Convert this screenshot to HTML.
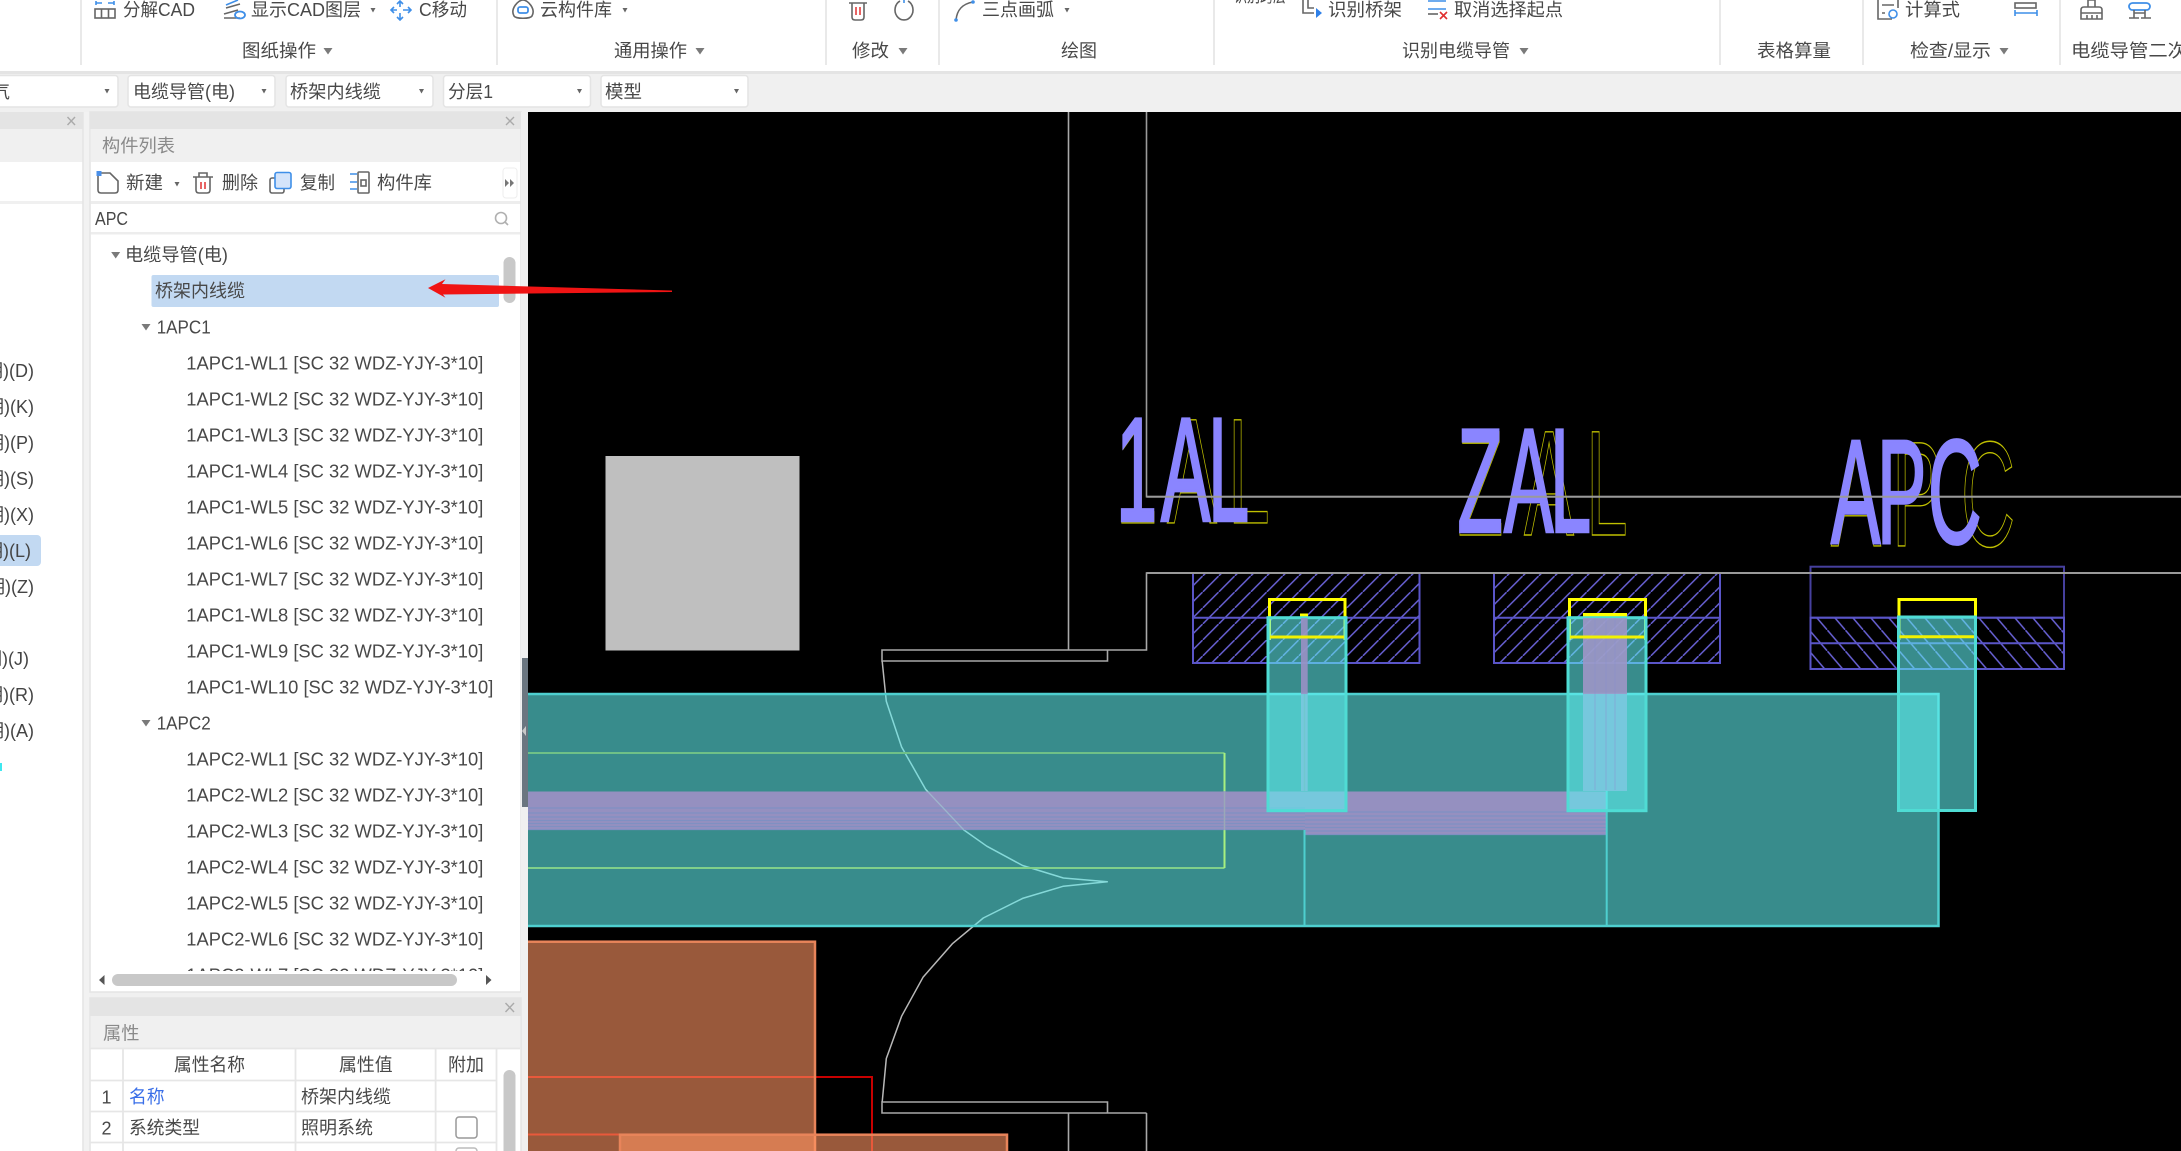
<!DOCTYPE html>
<html><head><meta charset="utf-8"><style>
html,body{margin:0;padding:0;background:#f0f0f0;overflow:hidden}
svg{display:block}
text{font-family:"Liberation Sans","Noto Sans CJK SC",sans-serif;font-size:18px;fill:#444}
.g{fill:#8a8a8a}
.t{font-size:18px;fill:#484848}
.cad{font-size:148px;fill:#8a85ff;stroke:#8a85ff;stroke-width:3}
.yl{font-size:150px;fill:none;stroke:#c0c000;stroke-width:1.400}
.x{stroke:#a8a8a8;stroke-width:1.600;fill:none}
.ic{fill:none;stroke:#666;stroke-width:1.600}
.ib{fill:none;stroke:#3f8fe8;stroke-width:1.600}
</style></head><body>
<svg xmlns="http://www.w3.org/2000/svg" width="2181" height="1151" viewBox="0 0 2181 1151">
<defs>
<polygon id="t" points="-4.5,-3 4.5,-3 0,3.5" fill="#7a7a7a"/>
<polygon id="s" points="-2.5,-2 2.5,-2 0,2.5" fill="#666"/>
<pattern id="h1" patternUnits="userSpaceOnUse" width="16" height="16" patternTransform="translate(2.7,0)"><path d="M-2,18 L18,-2" stroke="#6a63d8" stroke-width="1.500"/></pattern>
<pattern id="h2" patternUnits="userSpaceOnUse" width="18" height="21" patternTransform="translate(9.3,0)"><path d="M-2,-2.333 L20,23.333" stroke="#6a63d8" stroke-width="1.500"/></pattern>
<clipPath id="cv"><rect x="528" y="112" width="1653" height="1039"/></clipPath>
<clipPath id="tree"><rect x="92" y="236" width="426" height="735"/></clipPath>
</defs>

<!-- ribbon -->
<rect width="2181" height="71" fill="#fff"/>
<rect y="71" width="2181" height="3" fill="#e4e4e4"/>
<rect y="74" width="2181" height="38" fill="#f0f0f0"/>
<g stroke="#e2e2e2" stroke-width="1.500">
<path d="M81,0V65M497,0V65M826,0V65M939,0V65M1214,0V65M1720,0V65M1863,0V65M2060,0V65"/>
</g>
<text class="t" x="123" y="16" textLength="72" lengthAdjust="spacingAndGlyphs">分解CAD</text>
<text class="t" x="251" y="16" textLength="110" lengthAdjust="spacingAndGlyphs">显示CAD图层</text>
<text class="t" x="419" y="16" textLength="48" lengthAdjust="spacingAndGlyphs">C移动</text>
<text class="t" x="540" y="16" textLength="72" lengthAdjust="spacingAndGlyphs">云构件库</text>
<text class="t" x="982" y="16" textLength="72" lengthAdjust="spacingAndGlyphs">三点画弧</text>
<text class="t" x="1234" y="2" textLength="52" lengthAdjust="spacingAndGlyphs">识别跨层</text>
<text class="t" x="1328" y="16" textLength="74" lengthAdjust="spacingAndGlyphs">识别桥架</text>
<text class="t" x="1454" y="16" textLength="109" lengthAdjust="spacingAndGlyphs">取消选择起点</text>
<text class="t" x="1905" y="16" textLength="55" lengthAdjust="spacingAndGlyphs">计算式</text>
<use href="#s" x="373" y="10"/><use href="#s" x="625" y="10"/><use href="#s" x="1067" y="10"/>

<text class="t" x="242" y="57" textLength="74" lengthAdjust="spacingAndGlyphs">图纸操作</text><use href="#t" x="328" y="51"/>
<text class="t" x="614" y="57" textLength="73" lengthAdjust="spacingAndGlyphs">通用操作</text><use href="#t" x="700" y="51"/>
<text class="t" x="852" y="57" textLength="37" lengthAdjust="spacingAndGlyphs">修改</text><use href="#t" x="903" y="51"/>
<text class="t" x="1061" y="57" textLength="36" lengthAdjust="spacingAndGlyphs">绘图</text>
<text class="t" x="1402" y="57" textLength="108" lengthAdjust="spacingAndGlyphs">识别电缆导管</text><use href="#t" x="1524" y="51"/>
<text class="t" x="1757" y="57" textLength="74" lengthAdjust="spacingAndGlyphs">表格算量</text>
<text class="t" x="1910" y="57" textLength="81" lengthAdjust="spacingAndGlyphs">检查/显示</text><use href="#t" x="2004" y="51"/>
<text class="t" x="2071" y="57" textLength="116" lengthAdjust="spacingAndGlyphs">电缆导管二次</text>

<!-- ribbon icons -->
<rect class="ic" x="95" y="9" width="20" height="9"/><path class="ic" d="M101.500,9V18M108.500,9V18"/><path class="ib" d="M96,3H102M114,3H108M96,1V5M114,1V5"/>
<path class="ic" d="M224,14L238,10M224,18H240M226,8L240,4"/><path class="ib" d="M226,5L238,0"/><ellipse cx="240" cy="15" rx="5" ry="3.500" fill="none" stroke="#3f8fe8" stroke-width="1.800"/>
<path class="ib" d="M400,1V7M400,13V20M391,10H397M403,10H411M397,4L400,1L403,4M394,7L391,10L394,13M408,7L411,10L408,13M397,17L400,20L403,17"/>
<path class="ic" d="M514,16C510,9 518,0 523,0C528,0 536,9 532,16C530,19 516,19 514,16Z"/><rect x="518" y="7" width="10" height="6" rx="2" fill="none" stroke="#3f8fe8" stroke-width="1.800"/>
<path class="ic" d="M849,3H867M852,3V17Q852,20 855,20H861Q864,20 864,17V3"/><path d="M856,7V15M860,7V15" stroke="#e03030" stroke-width="1.500"/>
<path class="ic" d="M900,1A9,10 0 1 0 908,1"/><path class="ib" d="M904,0V3"/>
<path class="ic" d="M956,20C957,10 962,4 973,2"/><circle cx="956" cy="20" r="1.800" fill="#3f8fe8"/><circle cx="973" cy="2" r="1.800" fill="#3f8fe8"/>
<path class="ic" d="M1303,0V13H1314M1308,0V8H1314"/><path d="M1316,8L1322,13L1316,18Z" fill="#2f80e8"/>
<path class="ib" d="M1428,1H1446M1428,9H1446"/><path class="ic" d="M1428,14H1438"/><path d="M1440,12L1447,19M1447,12L1440,19" stroke="#e03030" stroke-width="1.600"/>
<path class="ic" d="M1878,0V19H1892M1898,0V8"/><path class="ic" d="M1882,5H1894M1882,13H1885"/><circle class="ib" cx="1893" cy="14" r="4"/>
<rect class="ic" x="2015" y="3" width="21" height="5"/><path class="ib" d="M2015,13H2037M2015,10V16M2037,10V16"/>
<path class="ic" d="M2088,0H2095V7H2088ZM2081,10Q2081,7 2084,7H2099Q2102,7 2102,10V19H2081ZM2081,13H2102M2087,15V19M2092,15V19M2097,15V19"/>
<rect x="2129" y="3" width="21" height="7" rx="3.500" fill="none" stroke="#3f8fe8" stroke-width="1.800"/><path class="ic" d="M2134,10V18M2145,10V18M2134,13H2145M2129,18H2139M2141,18H2151"/>

<!-- dropdowns -->
<g fill="#fff" stroke="#e4e4e4" stroke-width="1.500">
<rect x="-10" y="75.500" width="128" height="31.500" rx="3"/>
<rect x="128" y="75.500" width="147" height="31.500" rx="3"/>
<rect x="286" y="75.500" width="147" height="31.500" rx="3"/>
<rect x="443.500" y="75.500" width="147" height="31.500" rx="3"/>
<rect x="601" y="75.500" width="147" height="31.500" rx="3"/>
</g>
<text class="t" x="-8" y="98">气</text>
<text class="t" x="133" y="98" textLength="102" lengthAdjust="spacingAndGlyphs">电缆导管(电)</text>
<text class="t" x="290" y="98" textLength="91" lengthAdjust="spacingAndGlyphs">桥架内线缆</text>
<text class="t" x="448" y="98" textLength="45" lengthAdjust="spacingAndGlyphs">分层1</text>
<text class="t" x="605" y="98" textLength="37" lengthAdjust="spacingAndGlyphs">模型</text>
<use href="#s" x="107" y="91"/><use href="#s" x="264" y="91"/><use href="#s" x="421.500" y="91"/><use href="#s" x="579.500" y="91"/><use href="#s" x="736.500" y="91"/>

<!-- canvas -->
<rect x="527" y="112" width="1654" height="1039" fill="#000"/>
<g clip-path="url(#cv)">
<g class="x">
<path d="M1068.500,112V650"/>
<path d="M1146.500,112V496.700H2181" stroke="#9a9a9a"/>
<path d="M2181,573H1146.500V650H882V661H1107.500V650"/>
<path d="M882,1102H1107.500V1113H882ZM1068.500,1113V1151M1146.500,1113V1151M1107.500,1113H1146.500"/>
<polyline stroke="#b8b8b8" stroke-width="1.500" stroke-linejoin="round" points="882.200,661.300 886.300,701.300 901.600,747 925.600,789.300 963.900,830 986.800,846.200 1022.600,865.500 1063.400,878 1107.300,881.800 1063.400,886.200 1022.600,898.400 983.300,918 952.700,943.400 923,977.300 901.600,1016.200 886.300,1058.500 882.200,1101.900"/>
</g>
<!-- red -->
<path d="M528,1077H872V1151M528,1134.500H620" fill="none" stroke="#c80000" stroke-width="2"/>
<!-- hatch -->
<rect x="1193" y="573" width="226.500" height="90" fill="url(#h1)" stroke="#5a55c8" stroke-width="2"/>
<rect x="1494" y="573" width="226" height="90" fill="url(#h1)" stroke="#5a55c8" stroke-width="2"/>
<path d="M1193,617.700H1419.500M1494,617.700H1720" stroke="#5a55c8" stroke-width="2"/>
<rect x="1810.500" y="566.700" width="253.500" height="51" fill="none" stroke="#46409e" stroke-width="2"/>
<rect x="1810.500" y="617.700" width="253.500" height="51.300" fill="url(#h2)" stroke="#5a55c8" stroke-width="2"/>
<path d="M1810.500,643.300H2064" stroke="#5a55c8" stroke-width="2"/>
<!-- yellow frames -->
<path d="M1269.500,640V599.500H1345V640M1569.500,640V599.500H1645.500V640M1899,640V599.500H1975.500V640" fill="none" stroke="#ffff00" stroke-width="3"/>
<path d="M1301,617V614.500H1307V617Z" fill="#ffff00" stroke="#ffff00" stroke-width="2"/>
<path d="M1584,617V614H1626V617Z" fill="#ffff00" stroke="#ffff00" stroke-width="2"/>
<!-- CAD text -->
<text class="yl" transform="scale(.5,1)" x="2232 2334 2456" y="523">1AL</text>
<text class="yl" transform="scale(.5,1)" x="2915 3048 3172" y="535">ZAL</text>
<text class="yl" transform="scale(.5,1)" x="3662 3784 3922" y="546">APC</text>
<text class="cad" transform="scale(.5,1)" x="2232 2322 2416" y="520.700">1AL</text>
<text class="cad" transform="scale(.5,1)" x="2915 3008 3100" y="531.700">ZAL</text>
<text class="cad" transform="scale(.5,1)" x="3662 3754 3856" y="543">APC</text>
<path d="M1146.500,496.700H2181M1146.500,573H2181" stroke="#9a9a9a" stroke-width="2"/>
<!-- gray square -->
<rect x="605.500" y="456" width="194" height="194.500" fill="#bfbfbf"/>
<!-- main teal -->
<rect x="500" y="694" width="1438.500" height="232" fill="rgb(97,241,241)" fill-opacity=".58" stroke="#4ecfcf" stroke-width="2.500"/>
<path d="M528,753H1224.500" stroke="#6fc087" stroke-width="2"/>
<path d="M528,868H1224.500" stroke="#80d08a" stroke-width="2"/>
<path d="M1224.500,753V868" stroke="#a8f080" stroke-width="2"/>
<!-- purple band -->
<rect x="528" y="791.500" width="777" height="38.500" fill="#9590c0"/>
<rect x="1305" y="791.500" width="302" height="43.500" fill="#9590c0"/>
<g stroke="#7f90c2" stroke-width="1.200">
<path d="M528,808H1305M528,813H1305M528,817H1305M528,820.500H1305M528,823.500H1305M528,826.500H1305M528,829.500H1305"/>
<path d="M1305,812H1607M1305,816H1607M1305,820H1607M1305,824H1607M1305,827.500H1607M1305,831H1607M1305,834.500H1607"/>
</g>
<path d="M1224.500,791V830" stroke="#9aa8b8" stroke-width="1.500"/>
<polyline fill="none" stroke="#a8dcd8" stroke-width="1.300" opacity=".5" points="925.600,789.300 963.900,830"/>
<path d="M1304.500,830V926M1606.700,694V926" stroke="#4ecfcf" stroke-width="2"/>
<!-- purple verticals under cyan -->
<rect x="1301" y="694" width="6.700" height="97" fill="#9590c0"/>
<rect x="1583" y="694" width="44" height="97" fill="#9590c0"/>
<!-- cyan boxes -->
<g fill="rgb(97,241,241)" fill-opacity=".58" stroke="#4fdcd4" stroke-width="3">
<rect x="1268" y="617.700" width="78" height="193"/>
<rect x="1568" y="617.700" width="78" height="193"/>
<rect x="1898.500" y="617" width="77" height="193.500"/>
</g>
<!-- upper purple over cyan -->
<rect x="1301" y="618" width="6.700" height="76" fill="#9a90c4" fill-opacity=".9"/>
<rect x="1583" y="618" width="44" height="76" fill="#9e96c6" fill-opacity=".9"/>
<path d="M1304.500,694V791" stroke="#6fc8d0" stroke-width="1.500"/>
<path d="M1595,618V790M1606,618V790M1615,618V790" stroke="#8a8fd0" stroke-width="1" opacity=".5"/>
<!-- yellow bottoms -->
<path d="M1270,637H1344M1570,637H1644M1899.500,636.700H1974" stroke="#f2f200" stroke-width="3"/>
<!-- orange -->
<rect x="500" y="941.700" width="315" height="240" fill="rgb(255,148,98)" fill-opacity=".6" stroke="#e8845a" stroke-width="2.500"/>
<rect x="620" y="1134.700" width="387" height="50" fill="rgb(255,148,98)" fill-opacity=".6" stroke="#e8845a" stroke-width="2.500"/>
</g>

<!-- left panel 1 -->
<rect x="0" y="112" width="83" height="1039" fill="#fff"/>
<rect x="0" y="112" width="83" height="17" fill="#e4e4e4"/>
<rect x="0" y="129" width="83" height="33" fill="#f0f0f0"/>
<rect x="0" y="201" width="83" height="3" fill="#f0f0f0"/>
<rect x="83" y="112" width="7" height="1039" fill="#f2f2f2"/>
<path d="M83,112V1151" stroke="#e4e4e4" stroke-width="1.500"/>
<path d="M67.500,117L75,125M75,117L67.500,125" stroke="#aaa" stroke-width="1.400"/>
<rect x="-6" y="535" width="47" height="31" rx="4" fill="#c2d9f2"/>
<g text-anchor="end">
<text x="34" y="377">明)(D)</text>
<text x="34" y="413">明)(K)</text>
<text x="34" y="449">明)(P)</text>
<text x="34" y="485">明)(S)</text>
<text x="34" y="521">明)(X)</text>
<text x="31" y="557">明)(L)</text>
<text x="34" y="593">明)(Z)</text>
<text x="29" y="665">明)(J)</text>
<text x="34" y="701">明)(R)</text>
<text x="34" y="737">明)(A)</text>
</g>
<rect x="0" y="763" width="2" height="8" fill="#3fe8f0"/>

<!-- panel 2 -->
<rect x="90" y="112" width="431" height="880" fill="#fff" stroke="#e4e4e4" stroke-width="1.500"/>
<rect x="90.500" y="112" width="430" height="17" fill="#e4e4e4"/>
<rect x="90.500" y="129" width="430" height="33" fill="#f0f0f0"/>
<rect x="90.500" y="201" width="430" height="3" fill="#ededed"/>
<rect x="90.500" y="232" width="430" height="2.500" fill="#ededed"/>
<path d="M506,117L514,125M514,117L506,125" stroke="#aaa" stroke-width="1.400"/>
<text class="g" x="102" y="152" textLength="73" lengthAdjust="spacingAndGlyphs">构件列表</text>
<path class="ic" d="M98,173H110L118,181V190Q118,193 115,193H101Q98,193 98,190Z"/><rect x="96.500" y="171" width="5" height="5" fill="#4a8fe8"/>
<text class="t" x="126" y="189" textLength="37" lengthAdjust="spacingAndGlyphs">新建</text><use href="#s" x="177" y="184"/>
<path class="ic" d="M193,177H213M196,177V190Q196,193 199,193H207Q210,193 210,190V177M199,177V173H207V177"/><path d="M201,182V189M205,182V189" stroke="#e03030" stroke-width="1.500"/>
<text class="t" x="222" y="189" textLength="36" lengthAdjust="spacingAndGlyphs">删除</text>
<rect class="ic" x="270" y="178" width="14" height="15" rx="2"/><rect x="275" y="172.500" width="16" height="16" rx="2" fill="#d4e4fa" stroke="#3f8fe8" stroke-width="1.600"/>
<text class="t" x="300" y="189" textLength="35" lengthAdjust="spacingAndGlyphs">复制</text>
<rect class="ic" x="358" y="172" width="11" height="21" rx="1"/><rect class="ic" x="361" y="180" width="5" height="6"/><path class="ib" d="M350,174H357M350,182H357M350,189H357"/>
<text class="t" x="377" y="189" textLength="55" lengthAdjust="spacingAndGlyphs">构件库</text>
<rect x="503" y="168" width="14" height="30" rx="3" fill="#fff" stroke="#eee" stroke-width="1"/>
<path d="M505,179L509,183L505,187ZM510,179L514,183L510,187Z" fill="#777"/>
<text class="t" x="95" y="225" textLength="33" lengthAdjust="spacingAndGlyphs">APC</text>
<circle cx="501" cy="218" r="5.500" fill="none" stroke="#b0b0b0" stroke-width="1.600"/><path d="M505,222L508,225" stroke="#b0b0b0" stroke-width="1.600"/>

<!-- tree -->
<use href="#t" x="115.700" y="255"/>
<text class="t" x="125" y="261" textLength="103" lengthAdjust="spacingAndGlyphs">电缆导管(电)</text>
<rect x="151.500" y="275" width="347.500" height="32" rx="2" fill="#c2d9f2"/>
<text class="t" x="155" y="297" textLength="90" lengthAdjust="spacingAndGlyphs">桥架内线缆</text>
<rect x="503.500" y="257" width="12" height="46" rx="6" fill="#c8c8c8"/>
<use href="#t" x="146" y="327"/>
<text class="t" x="156.700" y="333.500" textLength="54" lengthAdjust="spacingAndGlyphs">1APC1</text>
<g clip-path="url(#tree)">
<text class="t" x="186.300" y="369.500" textLength="297" lengthAdjust="spacingAndGlyphs">1APC1-WL1 [SC 32 WDZ-YJY-3*10]</text>
<text class="t" x="186.300" y="405.500" textLength="297" lengthAdjust="spacingAndGlyphs">1APC1-WL2 [SC 32 WDZ-YJY-3*10]</text>
<text class="t" x="186.300" y="441.500" textLength="297" lengthAdjust="spacingAndGlyphs">1APC1-WL3 [SC 32 WDZ-YJY-3*10]</text>
<text class="t" x="186.300" y="477.500" textLength="297" lengthAdjust="spacingAndGlyphs">1APC1-WL4 [SC 32 WDZ-YJY-3*10]</text>
<text class="t" x="186.300" y="513.500" textLength="297" lengthAdjust="spacingAndGlyphs">1APC1-WL5 [SC 32 WDZ-YJY-3*10]</text>
<text class="t" x="186.300" y="549.500" textLength="297" lengthAdjust="spacingAndGlyphs">1APC1-WL6 [SC 32 WDZ-YJY-3*10]</text>
<text class="t" x="186.300" y="585.500" textLength="297" lengthAdjust="spacingAndGlyphs">1APC1-WL7 [SC 32 WDZ-YJY-3*10]</text>
<text class="t" x="186.300" y="621.500" textLength="297" lengthAdjust="spacingAndGlyphs">1APC1-WL8 [SC 32 WDZ-YJY-3*10]</text>
<text class="t" x="186.300" y="657.500" textLength="297" lengthAdjust="spacingAndGlyphs">1APC1-WL9 [SC 32 WDZ-YJY-3*10]</text>
<text class="t" x="186.300" y="693.500" textLength="307" lengthAdjust="spacingAndGlyphs">1APC1-WL10 [SC 32 WDZ-YJY-3*10]</text>
<use href="#t" x="146" y="723"/>
<text class="t" x="156.700" y="729.500" textLength="54" lengthAdjust="spacingAndGlyphs">1APC2</text>
<text class="t" x="186.300" y="765.500" textLength="297" lengthAdjust="spacingAndGlyphs">1APC2-WL1 [SC 32 WDZ-YJY-3*10]</text>
<text class="t" x="186.300" y="801.500" textLength="297" lengthAdjust="spacingAndGlyphs">1APC2-WL2 [SC 32 WDZ-YJY-3*10]</text>
<text class="t" x="186.300" y="837.500" textLength="297" lengthAdjust="spacingAndGlyphs">1APC2-WL3 [SC 32 WDZ-YJY-3*10]</text>
<text class="t" x="186.300" y="873.500" textLength="297" lengthAdjust="spacingAndGlyphs">1APC2-WL4 [SC 32 WDZ-YJY-3*10]</text>
<text class="t" x="186.300" y="909.500" textLength="297" lengthAdjust="spacingAndGlyphs">1APC2-WL5 [SC 32 WDZ-YJY-3*10]</text>
<text class="t" x="186.300" y="945.500" textLength="297" lengthAdjust="spacingAndGlyphs">1APC2-WL6 [SC 32 WDZ-YJY-3*10]</text>
<text class="t" x="186.300" y="981.500" textLength="297" lengthAdjust="spacingAndGlyphs">1APC2-WL7 [SC 32 WDZ-YJY-3*10]</text>
</g>
<rect x="92" y="971" width="426" height="20" fill="#fff"/>
<rect x="112" y="974" width="345" height="12" rx="6" fill="#c8c8c8"/>
<path d="M104.500,975V985L99,980ZM486,975V985L491.500,980Z" fill="#555"/>

<!-- handle -->
<rect x="521" y="112" width="7" height="1039" fill="#f0f0f0"/>
<rect x="522" y="658" width="6" height="149" fill="#6b7680"/>
<path d="M526,726V736L522,731Z" fill="#c8c8c8"/>

<!-- properties -->
<rect x="90" y="998" width="431" height="160" fill="#fff" stroke="#e4e4e4" stroke-width="1.500"/>
<rect x="90.500" y="998" width="430" height="18" fill="#e4e4e4"/>
<rect x="90.500" y="1016" width="430" height="32" fill="#f0f0f0"/>
<path d="M505.500,1003L514,1012M514,1003L505.500,1012" stroke="#aaa" stroke-width="1.400"/>
<text class="g" x="103" y="1039.500" textLength="36.500" lengthAdjust="spacingAndGlyphs">属性</text>
<g stroke="#e6e6e6" stroke-width="1.800" fill="none">
<path d="M90,1048.500H520M90,1080.500H497M90,1111.500H497M90,1142.500H497"/>
<path d="M123,1049V1151M295.500,1049V1151M435.600,1049V1151M496.500,1049V1151"/>
</g>
<text class="t" x="174" y="1071" textLength="71" lengthAdjust="spacingAndGlyphs">属性名称</text>
<text class="t" x="339" y="1071" textLength="53.600" lengthAdjust="spacingAndGlyphs">属性值</text>
<text class="t" x="448" y="1071" textLength="36" lengthAdjust="spacingAndGlyphs">附加</text>
<text class="t" x="101.500" y="1103.500">1</text>
<text class="t" x="101.500" y="1134.500">2</text>
<text x="129" y="1103" textLength="35.600" lengthAdjust="spacingAndGlyphs" style="fill:#3a6fe8">名称</text>
<text class="t" x="301" y="1103" textLength="90" lengthAdjust="spacingAndGlyphs">桥架内线缆</text>
<text class="t" x="129" y="1134" textLength="71" lengthAdjust="spacingAndGlyphs">系统类型</text>
<text class="t" x="301" y="1134" textLength="72" lengthAdjust="spacingAndGlyphs">照明系统</text>
<rect x="456" y="1117" width="21" height="21" rx="3" fill="#fff" stroke="#999" stroke-width="1.500"/>
<rect x="456" y="1148" width="21" height="21" rx="3" fill="#fff" stroke="#bbb" stroke-width="1.500"/>
<rect x="503.500" y="1070" width="12" height="100" rx="6" fill="#c8c8c8"/>

<!-- red arrow -->
<polygon points="428,288 445.500,279.300 442,284 672,290.500 672,292 443,294.500 445.500,297.700" fill="#f01414"/>
</svg>
</body></html>
